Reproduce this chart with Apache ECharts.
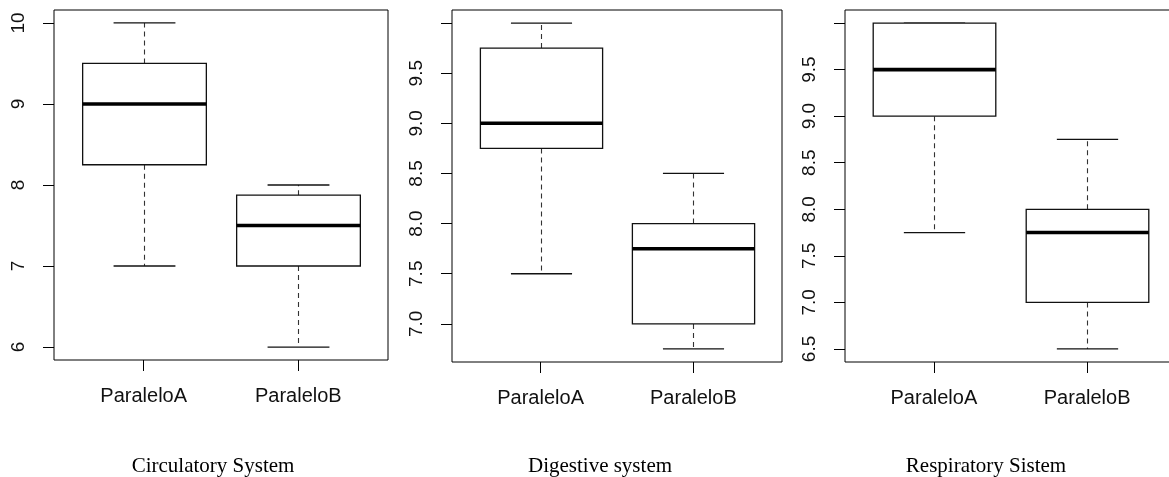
<!DOCTYPE html>
<html>
<head>
<meta charset="utf-8">
<script src="https://cdn.jsdelivr.net/npm/echarts@6/dist/echarts.min.js"></script>
<style>
  html, body { margin: 0; padding: 0; background: #fff; }
  #chart { width: 1169px; height: 477px; }
</style>
</head>
<body>
<div id="chart"></div>
<script>
// ---- data ----
const categories = ['ParaleloA', 'ParaleloB'];
const panelTitles = ['Circulatory System', 'Digestive system', 'Respiratory Sistem'];
// [min, Q1, median, Q3, max]
const circulatoryA = [7, 8.25, 9, 9.5, 10];
const circulatoryB = [6, 7, 7.5, 7.875, 8];
const digestiveA = [7.5, 8.75, 9, 9.75, 10];
const digestiveB = [6.75, 7, 7.75, 8, 8.5];
const respiratoryA = [7.75, 9, 9.5, 10, 10];
const respiratoryB = [6.5, 7, 7.75, 8, 8.75];
// tick marks and labelled ticks
const circTicks = [6, 7, 8, 9, 10];
const circLabels = [6, 7, 8, 9, 10];
const digTicks = [7, 7.5, 8, 8.5, 9, 9.5, 10];
const digLabels = [7, 7.5, 8, 8.5, 9, 9.5];
const respTicks = [6.5, 7, 7.5, 8, 8.5, 9, 9.5, 10];
const respLabels = [6.5, 7, 7.5, 8, 8.5, 9, 9.5];

const panels = [
  { title: panelTitles[0], a: circulatoryA, b: circulatoryB, ticks: circTicks, labels: circLabels, dec: 0,
    grid: { left: 54, top: 10, width: 334, height: 350 }, titleX: 213 },
  { title: panelTitles[1], a: digestiveA, b: digestiveB, ticks: digTicks, labels: digLabels, dec: 1,
    grid: { left: 452, top: 10, width: 330, height: 352 }, titleX: 600 },
  { title: panelTitles[2], a: respiratoryA, b: respiratoryB, ticks: respTicks, labels: respLabels, dec: 1,
    grid: { left: 845, top: 10, width: 331, height: 352 }, titleX: 986 }
];

const LINE = '#111';
const FONT = 'Liberation Sans, Arial, sans-serif';

function renderBox(params, api) {
  const x = api.value(0);
  const lo = api.value(1), q1 = api.value(2), med = api.value(3), q3 = api.value(4), hi = api.value(5);
  const w = api.size([0.8, 0])[0];
  const pm = api.coord([x, med]);
  const pLo = api.coord([x, lo]), pQ1 = api.coord([x, q1]);
  const pQ3 = api.coord([x, q3]), pHi = api.coord([x, hi]);
  const cx = Math.round(pm[0]) + 0.5;
  const left = cx - w / 2;
  const thin = { stroke: LINE, lineWidth: 1.3, fill: null };
  const dash = { stroke: '#333', lineWidth: 1.1, lineDash: [5, 4], fill: null };
  return {
    type: 'group',
    children: [
      { type: 'line', shape: { x1: cx, y1: pQ3[1], x2: cx, y2: pHi[1] }, style: dash },
      { type: 'line', shape: { x1: cx, y1: pQ1[1], x2: cx, y2: pLo[1] }, style: dash },
      { type: 'line', shape: { x1: cx - w / 4, y1: pHi[1], x2: cx + w / 4, y2: pHi[1] }, style: thin },
      { type: 'line', shape: { x1: cx - w / 4, y1: pLo[1], x2: cx + w / 4, y2: pLo[1] }, style: thin },
      { type: 'rect', shape: { x: left, y: pQ3[1], width: w, height: pQ1[1] - pQ3[1] },
        style: { stroke: LINE, lineWidth: 1.3, fill: '#fff' } },
      { type: 'line', shape: { x1: left, y1: pm[1], x2: left + w, y2: pm[1] },
        style: { stroke: '#000', lineWidth: 3.6 } }
    ]
  };
}

const grids = [], xAxes = [], yAxes = [], series = [], graphics = [];
panels.forEach((p, i) => {
  const all = p.a.concat(p.b);
  const dMin = Math.min.apply(null, all), dMax = Math.max.apply(null, all);
  const ext = (dMax - dMin) * 0.04;
  grids.push(Object.assign({ show: true, borderColor: '#000', borderWidth: 1, backgroundColor: 'transparent',
    containLabel: false, outerBoundsMode: 'none' }, p.grid));
  xAxes.push({
    type: 'value', gridIndex: i, min: 0.42, max: 2.58,
    axisLine: { show: false }, splitLine: { show: false },
    axisTick: { show: true, length: 11, customValues: [1, 2], lineStyle: { color: '#000', width: 1 } },
    axisLabel: { show: true, customValues: [1, 2], margin: 26, fontSize: 20, fontFamily: FONT, color: '#111',
      formatter: v => categories[Math.round(v) - 1] || '' }
  });
  yAxes.push({
    type: 'value', gridIndex: i, min: dMin - ext, max: dMax + ext,
    axisLine: { show: false }, splitLine: { show: false },
    axisTick: { show: true, length: 11, customValues: p.ticks, lineStyle: { color: '#000', width: 1 } },
    axisLabel: { show: true, customValues: p.labels, rotate: 90, margin: 26, fontSize: 19, fontFamily: FONT, color: '#111',
      formatter: v => Number(v).toFixed(p.dec) }
  });
  series.push({
    type: 'custom', xAxisIndex: i, yAxisIndex: i, renderItem: renderBox,
    encode: { x: 0, y: [1, 2, 3, 4, 5] },
    data: [[1].concat(p.a), [2].concat(p.b)],
    silent: true
  });
  graphics.push({
    type: 'text', x: p.titleX, y: 466,
    style: { text: p.title, align: 'center', verticalAlign: 'middle', fill: '#000',
      font: '21px "Liberation Serif", "Times New Roman", serif' }
  });
});

const chart = echarts.init(document.getElementById('chart'), null, { renderer: 'canvas' });
chart.setOption({
  animation: false,
  backgroundColor: '#fff',
  grid: grids,
  xAxis: xAxes,
  yAxis: yAxes,
  series: series,
  graphic: graphics
});
</script>
</body>
</html>
